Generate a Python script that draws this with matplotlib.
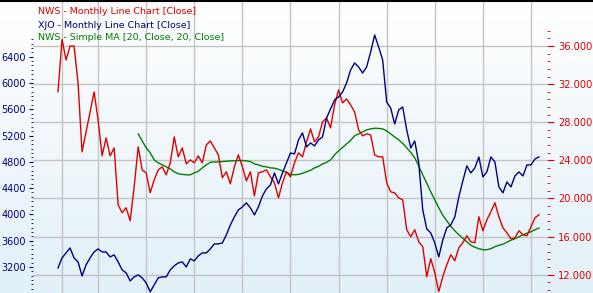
import numpy as np
import matplotlib.pyplot as plt
from matplotlib.colors import LinearSegmentedColormap
from matplotlib.ticker import FixedLocator, FuncFormatter

# monthly closes, month index 0..120
months = np.arange(121)
nws_close = [31.21, 36.70, 34.53, 36.00, 36.00, 32.12, 24.89, 26.99, 29.08, 31.18,
             28.24, 24.47, 26.36, 24.47, 25.31, 19.34, 18.50, 19.02, 17.66, 21.22,
             25.42, 23.00, 22.69, 20.59, 21.96, 23.00, 23.32, 22.48, 23.74, 26.46,
             24.37, 25.31, 23.63, 24.05, 23.74, 24.47, 23.74, 25.62, 26.04, 25.31,
             24.58, 22.17, 22.80, 21.54, 23.32, 24.58, 23.32, 21.85, 22.80, 20.28,
             22.69, 22.80, 23.00, 22.27, 21.64, 20.07, 21.64, 22.80, 22.27, 23.74,
             24.79, 24.37, 25.94, 27.30, 25.94, 26.46, 28.04, 28.45, 27.41, 29.82,
             31.39, 30.03, 30.45, 29.82, 29.08, 27.20, 26.57, 26.78, 26.67, 24.58,
             24.37, 24.37, 21.64, 20.70, 20.59, 20.07, 19.86, 16.72, 15.98, 16.72,
             15.46, 14.94, 11.79, 13.68, 12.21, 10.22, 11.79, 13.05, 14.10, 13.47,
             14.83, 15.35, 16.09, 15.46, 15.35, 18.08, 16.61, 17.76, 18.60, 19.55,
             18.08, 16.93, 16.40, 15.77, 15.88, 16.61, 16.19, 16.09, 17.03, 17.97,
             18.29]
xjo_close = [3186, 3338, 3414, 3490, 3338, 3277, 3064, 3232, 3338, 3429,
             3475, 3429, 3429, 3353, 3384, 3277, 3156, 3110, 2988, 3049,
             3080, 3034, 2958, 2821, 2928, 3034, 3049, 3049, 3156, 3217,
             3262, 3277, 3201, 3323, 3293, 3369, 3414, 3414, 3475, 3551,
             3551, 3566, 3688, 3840, 3962, 4068, 4114, 4175, 4099, 3992,
             4114, 4281, 4388, 4449, 4631, 4464, 4631, 4783, 4935, 4920,
             5133, 5239, 5027, 5087, 5042, 5133, 5179, 5468, 5605, 5741,
             5787, 5863, 6000, 6198, 6304, 6243, 6152, 6243, 6471, 6730,
             6548, 6350, 5711, 5620, 5376, 5589, 5635, 5285, 5011, 5118,
             4783, 4068, 3779, 3718, 3566, 3353, 3612, 3795, 3840, 3962,
             4266, 4509, 4738, 4631, 4707, 4874, 4570, 4646, 4874, 4798,
             4418, 4327, 4494, 4418, 4585, 4646, 4585, 4753, 4753, 4844,
             4874]
ma_start = 20
nws_ma20 = [26.78, 26.04, 25.31, 24.79, 24.05, 23.74, 23.53, 23.32, 23.11, 22.80,
            22.59, 22.53, 22.48, 22.48, 22.69, 22.85, 23.21, 23.53, 23.79, 23.84,
            23.84, 23.87, 23.90, 23.95, 23.95, 23.98, 23.98, 23.95, 23.87, 23.63,
            23.53, 23.37, 23.32, 23.21, 23.18, 23.06, 22.90, 22.74, 22.53, 22.48,
            22.53, 22.64, 22.80, 22.95, 23.21, 23.37, 23.63, 23.79, 24.05, 24.58,
            25.00, 25.36, 25.73, 26.10, 26.57, 26.78, 26.99, 27.20, 27.30, 27.37,
            27.35, 27.30, 27.09, 26.78, 26.46, 26.15, 25.78, 25.31, 24.84, 24.26,
            23.42, 22.48, 21.59, 20.70, 19.86, 19.02, 18.24, 17.66, 17.08, 16.61,
            16.19, 15.83, 15.46, 15.09, 14.88, 14.73, 14.62, 14.62, 14.73, 14.94,
            15.09, 15.20, 15.41, 15.62, 15.77, 15.98, 16.19, 16.35, 16.51, 16.72,
            16.90]
year_lines = [1, 10, 22, 34, 46, 58, 70, 82, 94, 106, 118]
nws_ticks = [12, 16, 20, 24, 28, 32, 36]
xjo_ticks = [3200, 3600, 4000, 4400, 4800, 5200, 5600, 6000, 6400]
legend = ["NWS - Monthly Line Chart [Close]",
          "XJO - Monthly Line Chart [Close]",
          "NWS - Simple MA [20, Close, 20, Close]"]

RED, NAVY, GREEN = "#e00000", "#000080", "#008000"
W, H = 593, 293
plt.rcParams["font.family"] = ["DejaVu Sans"]

fig = plt.figure(figsize=(W/100, H/100), dpi=100)

# background gradient (white top -> pale blue bottom)
bg = fig.add_axes([0, 0, 1, 1]); bg.axis("off")
cm = LinearSegmentedColormap.from_list("bg", ["#ffffff", "#e2f0f8"])
bg.imshow(np.linspace(0, 1, 256)[:, None], aspect="auto", cmap=cm, extent=[0, 1, 0, 1])

ax = fig.add_axes([33/W, 0, (547-33)/W, 291/H])   # NWS, right scale
ax.patch.set_alpha(0)
ax2 = ax.twinx()                                   # XJO, left scale
ax2.patch.set_alpha(0)

ax.plot(months[ma_start:], nws_ma20, color=GREEN, lw=1.0)
ax.plot(months, nws_close, color=RED, lw=1.0)
ax2.plot(months, xjo_close, color=NAVY, lw=1.0)

ax.set_xlim(-6.24, 122.0)
ax.set_ylim(10.08, 40.62)
ax2.set_ylim(2804, 7232)

ax.set_xticks(year_lines)
ax.tick_params(axis="x", length=0, labelbottom=False)
ax.grid(True, color="#c4c4c4", lw=1.0)
ax.set_axisbelow(True)

ax.yaxis.tick_right()
ax.yaxis.set_major_locator(FixedLocator(nws_ticks))
ax.yaxis.set_minor_locator(FixedLocator(np.arange(10.4, 37.7, 0.8)))
ax.yaxis.set_major_formatter(FuncFormatter(lambda v, p: f"{v:.3f}"))
ax.tick_params(axis="y", which="both", colors=RED, labelsize=7.1, direction="out", pad=3)
ax.tick_params(axis="y", which="major", length=5)
ax.tick_params(axis="y", which="minor", length=2.5)

ax2.yaxis.tick_left()
ax2.yaxis.set_major_locator(FixedLocator(xjo_ticks))
ax2.yaxis.set_minor_locator(FixedLocator(np.arange(2866.7, 6720, 400/6)))
ax2.tick_params(axis="y", which="both", colors=NAVY, labelsize=7.0, direction="out", pad=2)
ax2.tick_params(axis="y", which="major", length=3)
ax2.tick_params(axis="y", which="minor", length=1.8)

for a in (ax, ax2):
    for s in a.spines.values():
        s.set_visible(False)

for i, (txt, c) in enumerate(zip(legend, [RED, NAVY, GREEN])):
    fig.text(38/W, 1 - (12 + 13*i)/H, txt, color=c, fontsize=6.8, va="center", ha="left")

fig.add_artist(plt.Line2D([0, 1], [1 - 1/H, 1 - 1/H], color="black", lw=1.5,
                          transform=fig.transFigure))

fig.savefig("out.png", dpi=100)
